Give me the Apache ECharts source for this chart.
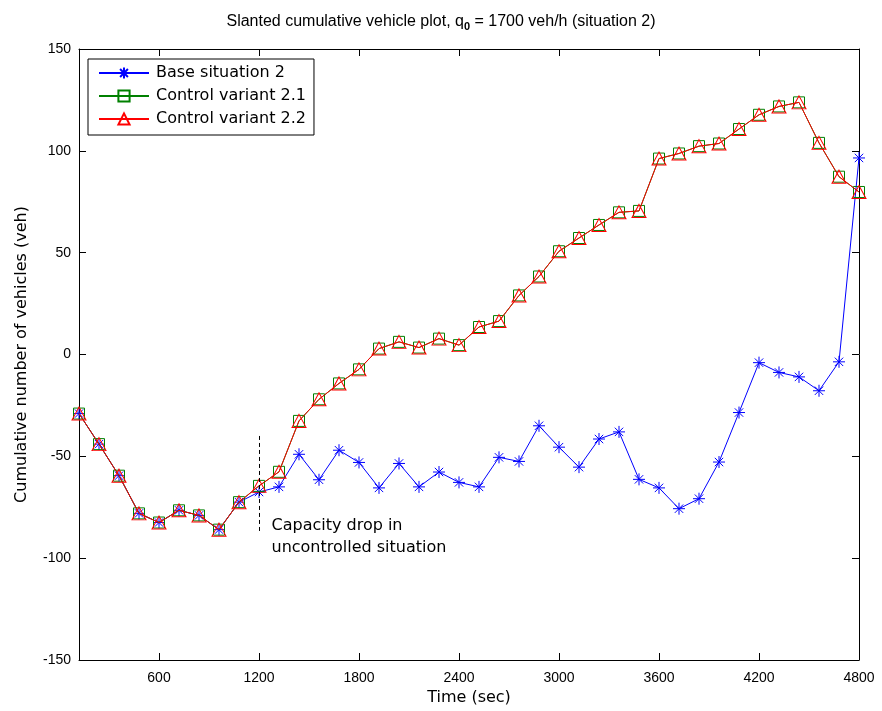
<!DOCTYPE html>
<html>
<head>
<meta charset="utf-8">
<script src="https://cdn.jsdelivr.net/npm/echarts@6/dist/echarts.min.js"></script>
<style>
html,body{margin:0;padding:0;background:#fff;}
#chart{width:882px;height:711px;}
</style>
</head>
<body>
<div id="chart"></div>
<script>
// ---- data ----
const timeSec = [120,240,360,480,600,720,840,960,1080,1200,1320,1440,1560,1680,1800,1920,2040,2160,2280,2400,2520,2640,2760,2880,3000,3120,3240,3360,3480,3600,3720,3840,3960,4080,4200,4320,4440,4560,4680,4800];
const baseSituation2 = [-29,-44,-59.5,-78,-82.5,-76.5,-79,-86,-72.5,-67.5,-65,-49,-61.5,-47,-53,-65.5,-53.5,-65,-57.7,-62.8,-65,-50.5,-52.5,-35,-45.5,-55.3,-41.5,-38,-61.3,-65.5,-75.7,-70.8,-52.8,-28.5,-4,-8.8,-11,-17.8,-3.6,96.5];
const controlVariant21 = [-29,-44,-59.5,-78,-82.5,-76.5,-79,-86,-72.5,-64.5,-57.6,-32.6,-22,-14.2,-7.3,2.9,6.2,3.4,7.8,4.6,13.5,16.4,29,38.3,50.7,57.2,63.6,69.8,70.5,96.2,98.7,102.3,103.6,110.7,117.7,121.8,123.8,103.9,87.3,79.8];
const controlVariant22 = [-29,-44,-59.5,-78,-82.5,-76.5,-79,-86,-72.5,-64.5,-57.6,-32.6,-22,-14.2,-7.3,2.9,6.2,3.4,7.8,4.6,13.5,16.4,29,38.3,50.7,57.2,63.6,69.8,70.5,96.2,98.7,102.3,103.6,110.7,117.7,121.8,123.8,103.9,87.3,79.8];
const xTicks = [600,1200,1800,2400,3000,3600,4200,4800];
const yTicks = [-150,-100,-50,0,50,100,150];
const seriesNames = ['Base situation 2','Control variant 2.1','Control variant 2.2'];
const annotationLines = ['Capacity drop in','uncontrolled situation'];
const dropMarker = {time:1200, from:-40, to:-88};
const annotationAnchor = [1263, -84];

const FONT = 'Liberation Sans, Arial, sans-serif';
const DFONT = 'DejaVu Sans, sans-serif';
const pairs = arr => timeSec.map((t,i)=>[t,arr[i]]);
const asterisk = 'path://M5,0 L5,10 M0,5 L10,5 M1.5,1.5 L8.5,8.5 M1.5,8.5 L8.5,1.5';

const chart = echarts.init(document.getElementById('chart'), null, {renderer:'canvas'});
const axisLineStyle = {color:'#000', width:1};
const option = {
  backgroundColor:'#fff',
  animation:false,
  title:{
    left:'center', top:7,
    text:'{a|Slanted cumulative vehicle plot, q}{s|0}{a| = 1700 veh/h (situation 2)}',
    textStyle:{fontWeight:'normal', rich:{
      a:{fontFamily:FONT, fontSize:16, fontWeight:'normal', color:'#000'},
      s:{fontFamily:FONT, fontSize:11, fontWeight:'bold', color:'#000', verticalAlign:'bottom', padding:[9,0,0,0]}
    }}
  },
  grid:{left:79, right:23, top:49, bottom:48, containLabel:false},
  legend:{
    left:88, top:59, orient:'vertical',
    backgroundColor:'#fff', borderColor:'#000', borderWidth:1,
    padding:[6,8,8,10],
    itemWidth:50, itemHeight:14, itemGap:7,
    textStyle:{fontFamily:DFONT, fontSize:16, color:'#000', lineHeight:16, padding:[0,0,0,2]},
    data:seriesNames
  },
  xAxis:[{
    type:'value', min:120, max:4800, position:'bottom',
    axisLine:{show:true, onZero:false, lineStyle:axisLineStyle},
    axisTick:{show:true, inside:true, length:7, customValues:xTicks, lineStyle:axisLineStyle},
    axisLabel:{show:true, customValues:xTicks, formatter:v=>String(v), fontFamily:FONT, fontSize:14, color:'#000', margin:11},
    splitLine:{show:false},
    name:'Time (sec)', nameLocation:'middle', nameGap:30,
    nameTextStyle:{fontFamily:DFONT, fontSize:16, color:'#000'}
  },{
    type:'value', min:120, max:4800, position:'top',
    axisLine:{show:true, onZero:false, lineStyle:axisLineStyle},
    axisTick:{show:true, inside:true, length:7, customValues:xTicks, lineStyle:axisLineStyle},
    axisLabel:{show:false}, splitLine:{show:false}
  }],
  yAxis:[{
    type:'value', min:-150, max:150, interval:50, position:'left',
    axisLine:{show:true, onZero:false, lineStyle:axisLineStyle},
    axisTick:{show:true, inside:true, length:7, lineStyle:axisLineStyle},
    axisLabel:{show:true, fontFamily:FONT, fontSize:14, color:'#000', margin:8},
    splitLine:{show:false},
    name:'Cumulative number of vehicles (veh)', nameLocation:'middle', nameGap:49, nameRotate:90,
    nameTextStyle:{fontFamily:DFONT, fontSize:16, color:'#000'}
  },{
    type:'value', min:-150, max:150, interval:50, position:'right',
    axisLine:{show:true, onZero:false, lineStyle:axisLineStyle},
    axisTick:{show:true, inside:true, length:7, lineStyle:axisLineStyle},
    axisLabel:{show:false}, splitLine:{show:false}
  }],
  series:[{
    name:seriesNames[0], type:'line', data:pairs(baseSituation2),
    symbol:asterisk, symbolSize:12, showAllSymbol:true,
    lineStyle:{color:'#0000ff', width:1},
    itemStyle:{color:'rgba(0,0,0,0)', borderColor:'#0000ff', borderWidth:1},
    z:2
  },{
    name:seriesNames[1], type:'line', data:pairs(controlVariant21),
    symbol:'rect', symbolSize:11, showAllSymbol:true,
    lineStyle:{color:'#008000', width:1},
    itemStyle:{color:'rgba(0,0,0,0)', borderColor:'#008000', borderWidth:1},
    z:3
  },{
    name:seriesNames[2], type:'line', data:pairs(controlVariant22),
    symbol:'triangle', symbolSize:[14,13], showAllSymbol:true,
    lineStyle:{color:'#ff0000', width:1},
    itemStyle:{color:'rgba(0,0,0,0)', borderColor:'#ff0000', borderWidth:1},
    z:4,
    markLine:{
      silent:true, symbol:'none', animation:false,
      label:{show:false},
      lineStyle:{color:'#000', type:[4,3], width:1},
      data:[[{coord:[dropMarker.time, dropMarker.from]},{coord:[dropMarker.time, dropMarker.to]}]]
    }
  }]
};
chart.setOption(option);
const p = chart.convertToPixel({xAxisIndex:0, yAxisIndex:0}, annotationAnchor);
chart.setOption({graphic:[{
  type:'text', left:p[0]+2, top:p[1]-11,
  style:{text:annotationLines.join('\n'), font:'16px "DejaVu Sans"', fill:'#000', lineHeight:22}
}]});
</script>
</body>
</html>
